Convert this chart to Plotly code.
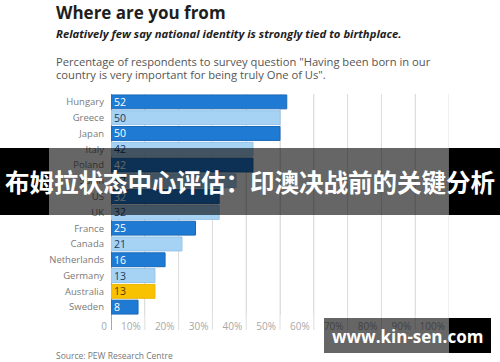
import plotly.graph_objects as go

countries = ["Hungary", "Greece", "Japan", "Italy", "Poland", "Spain", "US", "UK",
             "France", "Canada", "Netherlands", "Germany", "Australia", "Sweden"]
values = [52, 50, 50, 42, 42, 37, 32, 32, 25, 21, 16, 13, 13, 8]
kinds = ["b", "l", "b", "l", "b", "l", "b", "l", "b", "l", "b", "l", "g", "b"]
tick_vals = [0, 10, 20, 30, 40, 50, 60, 70, 80, 90, 100]
tick_text = ["0", "10%", "20%", "30%", "40%", "50%", "60%", "70%", "80%", "90%", "100%"]

FILL = {"b": "#1f7ad3", "l": "#a6d3f4", "g": "#f9c200"}
EDGE = {"b": "#1a69b8", "l": "#93c4ea", "g": "#e8b400"}
TXT = {"b": "#ffffff", "l": "#1c3a5c", "g": "#5a3b00"}

W, H = 500, 362
L, R, T, B = 111, 449, 94, 315
FONT = "Open Sans"


def px(x):
    return (x - L) / (R - L)


def py(y):
    return (B - y) / (B - T)


fig = go.Figure(go.Bar(
    x=values, y=countries, orientation="h",
    marker=dict(color=[FILL[k] for k in kinds],
                line=dict(color=[EDGE[k] for k in kinds], width=1)),
    text=[str(v) for v in values], textposition="inside", insidetextanchor="start",
    textangle=0, constraintext="none",
    textfont=dict(family=FONT, size=10.5, color=[TXT[k] for k in kinds]),
    hoverinfo="skip", width=0.88,
))

fig.update_layout(
    width=W, height=H, margin=dict(l=L, r=W - R, t=T, b=H - B, autoexpand=False),
    paper_bgcolor="#ffffff", plot_bgcolor="#ffffff", showlegend=False,
    font=dict(family=FONT),
    xaxis=dict(range=[0, 100], tickvals=tick_vals, ticktext=tick_text,
               showgrid=True, gridcolor="#dedede", gridwidth=1,
               zeroline=False, showline=False, ticks="",
               ticklabelposition="outside left", ticklabelshift=-4,
               ticklabelstandoff=4,
               tickfont=dict(family=FONT, size=10, color="#a8a8a8")),
    yaxis=dict(autorange="reversed", showgrid=False, zeroline=False,
               showline=False, ticks="", ticklabelstandoff=6,
               tickfont=dict(family=FONT, size=9.5, color="#7a7a7a")),
)

shapes = []
# gridline extensions below the plot
for tv in tick_vals:
    shapes.append(dict(type="line", xref="x", yref="paper", x0=tv, x1=tv,
                       y0=py(330), y1=1, layer="below",
                       line=dict(color="#dedede" if tv else "#8a8a8a",
                                 width=1 if tv else 1.5)))
# banner
shapes += [
    dict(type="rect", xref="paper", yref="paper", x0=px(49), x1=px(449),
         y0=py(215), y1=py(148), fillcolor="rgba(0,0,0,0.6)", line=dict(width=0), layer="above"),
    dict(type="rect", xref="paper", yref="paper", x0=px(0), x1=px(49),
         y0=py(215), y1=py(148), fillcolor="#000000", line=dict(width=0), layer="above"),
    dict(type="rect", xref="paper", yref="paper", x0=px(449), x1=px(500),
         y0=py(215), y1=py(148), fillcolor="#000000", line=dict(width=0), layer="above"),
    # watermark
    dict(type="rect", xref="paper", yref="paper", x0=px(324), x1=px(449),
         y0=py(353), y1=py(318), fillcolor="rgba(0,0,0,0.6)", line=dict(width=0), layer="above"),
    dict(type="rect", xref="paper", yref="paper", x0=px(449), x1=px(491),
         y0=py(353), y1=py(318), fillcolor="#000000", line=dict(width=0), layer="above"),
]
fig.update_layout(shapes=shapes)

ann = [
    dict(text="<b>Where are you from</b>", x=px(54), y=py(12), size=17, color="#1e1e1e"),
    dict(text="<b><i>Relatively few say national identity is strongly tied to birthplace.</i></b>",
         x=px(54), y=py(33), size=11.3, color="#1e1e1e"),
    dict(text="Percentage of respondents to survey question \"Having been born in our",
         x=px(54), y=py(61), size=11.2, color="#555555"),
    dict(text="country is very important for being truly One of Us\".",
         x=px(54), y=py(74), size=11.2, color="#555555"),
    dict(text="Source: PEW Research Centre", x=px(54), y=py(355), size=8.5, color="#777777"),
]
annotations = [dict(xref="paper", yref="paper", x=a["x"], y=a["y"], text=a["text"],
                    showarrow=False, xanchor="left", yanchor="middle",
                    font=dict(family=FONT, size=a["size"], color=a["color"]))
               for a in ann]
annotations.append(dict(xref="paper", yref="paper", x=px(250), y=py(181),
                        text="<b>布姆拉状态中心评估：印澳决战前的关键分析</b>",
                        showarrow=False, xanchor="center", yanchor="middle",
                        font=dict(family="Noto Sans CJK SC", size=24.5, color="#ffffff")))
annotations.append(dict(xref="paper", yref="paper", x=px(407), y=py(336),
                        text="<b>www.kin-sen.com</b>",
                        showarrow=False, xanchor="center", yanchor="middle",
                        font=dict(family=FONT, size=17, color="#ffffff")))
fig.update_layout(annotations=annotations)

fig.write_html("out.html", config={"displayModeBar": False},
               post_script="document.body.style.margin='0';document.body.style.overflow='hidden';")
